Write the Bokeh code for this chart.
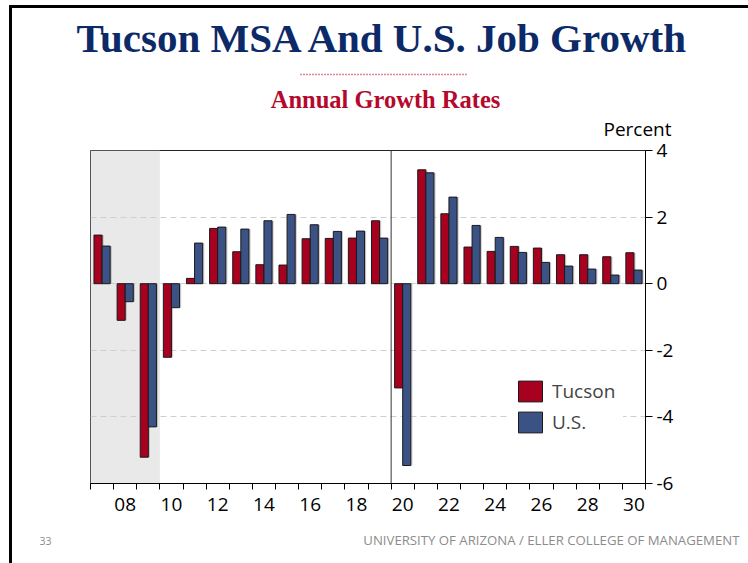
from bokeh.plotting import figure
from bokeh.layouts import column
from bokeh.models import (Range1d, FixedTicker, BoxAnnotation, Span, Label, Legend, LegendItem)
from bokeh.embed import file_html
from bokeh.resources import INLINE

years = list(range(2007, 2031))
tucson = [1.46, -1.10, -5.21, -2.21, 0.16, 1.66, 0.96, 0.57, 0.56, 1.35, 1.36, 1.37, 1.89,
          -3.13, 3.42, 2.10, 1.10, 0.97, 1.12, 1.07, 0.87, 0.87, 0.81, 0.93]
us = [1.13, -0.54, -4.30, -0.72, 1.22, 1.70, 1.64, 1.89, 2.08, 1.77, 1.57, 1.58, 1.37,
      -5.46, 3.33, 2.60, 1.75, 1.39, 0.94, 0.64, 0.53, 0.44, 0.26, 0.41]
x_label_years = list(range(2008, 2031, 2))
x_labels = ["%02d" % (y % 100) for y in x_label_years]
y_ticks = [-6, -4, -2, 0, 2, 4]
y_labels = ["-6", "-4", "-2", "0", "2", "4"]
recession = (2006.5, 2009.5)
covid_line = 2019.5

TUCSON_RED = "#a8001f"
US_BLUE = "#3b5284"
NAVY = "#0c2a67"
SUB_RED = "#b5082c"
FONT = "Open Sans"
SERIF = "Liberation Serif"

W = 736  # content width (page x 12..748)


def blank(h, y_top, y_bot):
    f = figure(width=W, height=h, x_range=Range1d(12, 748), y_range=Range1d(y_bot, y_top),
               x_axis_type=None, y_axis_type=None, output_backend="svg",
               toolbar_location=None, min_border=0)
    f.frame_align = False
    f.grid.visible = False
    f.outline_line_color = None
    f.background_fill_color = "white"
    f.border_fill_color = "white"
    return f


# ---------------- header ----------------
top = blank(134, 8, 142)
top.add_layout(Label(x=383, y=37, text="Tucson MSA And U.S. Job Growth", text_align="center",
                     text_baseline="alphabetic", text_font=SERIF, text_font_style="bold",
                     text_font_size="41px", text_color=NAVY))
top.segment(x0=[300], y0=[74], x1=[467], y1=[74], line_color="#c0102e", line_width=1.5,
            line_dash="1 2")
top.add_layout(Label(x=385, y=98.5, text="Annual Growth Rates", text_align="center",
                     text_baseline="alphabetic", text_font=SERIF, text_font_style="bold",
                     text_font_size="24.5px", text_color=SUB_RED))
top.add_layout(Label(x=637, y=128.5, text="Percent", text_align="center",
                     text_baseline="alphabetic", text_font=FONT, text_font_size="19px",
                     text_color="black"))

# ---------------- chart ----------------
# overlaps the header by 10px; its border area is transparent so "Percent" stays visible
p = figure(width=W, height=393, output_backend="svg", toolbar_location=None,
           x_range=Range1d(2006.5, 2030.5), y_range=Range1d(-6, 4),
           y_axis_location="right", min_border_left=78, min_border_right=103,
           min_border_top=18, min_border_bottom=42, margin=(-10, 0, 0, 0))
p.frame_align = False
p.outline_line_color = "#222222"
p.outline_line_width = 1
p.background_fill_color = "white"
p.border_fill_alpha = 0

p.add_layout(BoxAnnotation(left=recession[0], right=recession[1], fill_color="#e9e9e9",
                           fill_alpha=1, line_alpha=0, level="image"))

p.xgrid.visible = False
p.ygrid.ticker = FixedTicker(ticks=[-4, -2, 0, 2])
p.ygrid.grid_line_color = "#cfcfcf"
p.ygrid.grid_line_dash = "6 4"
p.ygrid.grid_line_width = 1

xa = p.xaxis[0]
xa.ticker = FixedTicker(ticks=x_label_years, minor_ticks=[y - 0.5 for y in years] + [years[-1] + 0.5])
xa.major_label_overrides = {y: l for y, l in zip(x_label_years, x_labels)}
xa.major_tick_out = 0
xa.major_tick_in = 0
xa.minor_tick_out = 6
xa.minor_tick_in = 0
xa.minor_tick_line_color = "black"
xa.axis_line_color = "black"
xa.major_label_text_font = FONT
xa.major_label_text_font_size = "19px"
xa.major_label_text_color = "black"
xa.major_label_standoff = 8

ya = p.yaxis[0]
ya.ticker = FixedTicker(ticks=y_ticks, minor_ticks=[])
ya.major_label_overrides = {t: l for t, l in zip(y_ticks, y_labels)}
ya.major_tick_out = 7
ya.major_tick_in = 0
ya.major_tick_line_color = "black"
ya.minor_tick_out = 0
ya.minor_tick_in = 0
ya.axis_line_color = "black"
ya.major_label_text_font = FONT
ya.major_label_text_font_size = "19px"
ya.major_label_text_color = "black"
ya.major_label_standoff = 4

p.add_layout(Span(location=covid_line, dimension="height", line_color="#333333", line_width=1))

bw = 0.35
tx = [y - bw / 2 for y in years]
ux = [y + bw / 2 for y in years]
p.vbar(x=[x + 0.07 for x in tx], top=tucson, bottom=0, width=bw, fill_color="#888888",
       fill_alpha=0.45, line_alpha=0)
p.vbar(x=[x + 0.07 for x in ux], top=us, bottom=0, width=bw, fill_color="#888888",
       fill_alpha=0.45, line_alpha=0)
r_t = p.vbar(x=tx, top=tucson, bottom=0, width=bw, fill_color=TUCSON_RED,
             line_color="#1a1a1a", line_width=1)
r_u = p.vbar(x=ux, top=us, bottom=0, width=bw, fill_color=US_BLUE,
             line_color="#1a1a1a", line_width=1)

legend = Legend(items=[LegendItem(label="Tucson", renderers=[r_t]),
                       LegendItem(label="U.S.", renderers=[r_u])],
                location=(417, 40), margin=0, padding=8, spacing=5,
                glyph_width=30, glyph_height=26, label_standoff=7,
                label_text_font=FONT, label_text_font_size="19px",
                background_fill_color="white", background_fill_alpha=1,
                border_line_alpha=0)
p.add_layout(legend, "center")

# ---------------- footer ----------------
foot = blank(38, 525, 563)
foot.add_layout(Label(x=45, y=540.5, text="33", text_align="center", text_baseline="alphabetic",
                      text_font=FONT, text_font_size="10.5px", text_color="#8c8c8c"))
foot.add_layout(Label(x=739, y=539.5, text="UNIVERSITY OF ARIZONA / ELLER COLLEGE OF MANAGEMENT",
                      text_align="right", text_baseline="alphabetic", text_font=FONT,
                      text_font_size="13.2px", text_color="#8c8c8c"))

page = column(top, p, foot, spacing=0, margin=(5, 0, 0, 9),
              styles={"border-top": "3px solid black", "border-left": "3px solid black"})

open("out.html", "w").write(file_html(page, INLINE))
